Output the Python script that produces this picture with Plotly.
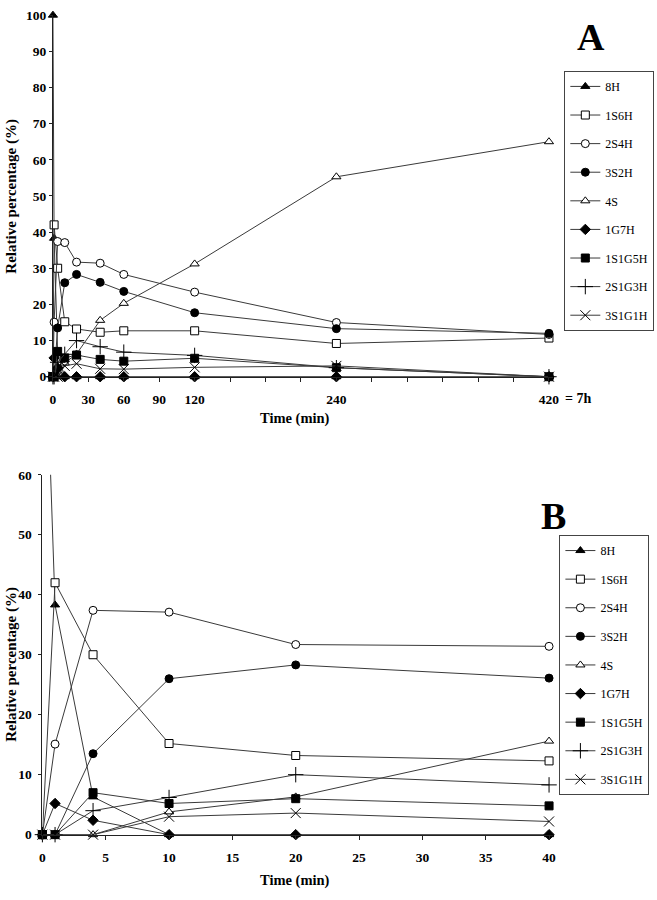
import plotly.graph_objects as go

time_min = [0, 1, 4, 10, 20, 40, 60, 120, 240, 420]
n_b = 6  # panel B shows the first 6 time points (0-40 min)

series_names = ["8H", "1S6H", "2S4H", "3S2H", "4S", "1G7H", "1S1G5H", "2S1G3H", "3S1G1H"]
v_8H     = [100, 38.3, 6.3, 0, 0, 0, 0, 0, 0, 0]
v_1S6H   = [0, 42.0, 30.0, 15.2, 13.2, 12.3, 12.7, 12.7, 9.2, 10.7]
v_2S4H   = [0, 15.1, 37.4, 37.1, 31.7, 31.4, 28.3, 23.4, 15.0, 11.7]
v_3S2H   = [0, 0, 13.5, 26.0, 28.3, 26.1, 23.6, 17.7, 13.3, 12.0]
v_4S     = [0, 0, 0, 3.8, 6.3, 15.6, 20.3, 31.2, 55.3, 65.0]
v_1G7H   = [0, 5.2, 2.4, 0, 0, 0, 0, 0, 0, 0]
v_1S1G5H = [0, 0, 7.0, 5.2, 6.0, 4.8, 4.3, 5.1, 2.5, 0]
v_2S1G3H = [0, 0, 4.0, 6.2, 10.0, 8.3, 6.8, 5.9, 2.5, 0]
v_3S1G1H = [0, 0, 0, 3.0, 3.6, 2.2, 2.1, 2.6, 3.0, 0]
values = [v_8H, v_1S6H, v_2S4H, v_3S2H, v_4S, v_1G7H, v_1S1G5H, v_2S1G3H, v_3S1G1H]

# symbol, fill colour, size
styles = [
    ("triangle-up", "black", 8),
    ("square", "white", 8),
    ("circle", "white", 8),
    ("circle", "black", 8),
    ("triangle-up", "white", 8),
    ("diamond", "black", 8),
    ("square", "black", 8),
    ("cross-thin-open", "black", 11),
    ("x-thin-open", "black", 10),
]

xticks_a = [0, 30, 60, 90, 120, 150, 180, 210, 240, 270, 300, 330, 360, 390, 420]
xtick_text_a = ["0", "30", "60", "90", "120", "", "", "", "240", "", "", "", "", "", "420"]
yticks_a = [0, 10, 20, 30, 40, 50, 60, 70, 80, 90, 100]
xticks_b = [0, 5, 10, 15, 20, 25, 30, 35, 40]
yticks_b = [0, 10, 20, 30, 40, 50, 60]

LINE = "#3a3a3a"
SERIF = "Liberation Serif"

fig = go.Figure()
for panel, (xa, ya, leg, npts) in enumerate([("x", "y", "legend", len(time_min)),
                                             ("x2", "y2", "legend2", n_b)]):
    for name, vals, (sym, fill, sz) in zip(series_names, values, styles):
        fig.add_trace(go.Scatter(
            x=time_min[:npts], y=vals[:npts], name=name,
            mode="lines+markers", xaxis=xa, yaxis=ya, legend=leg,
            legendgroup=f"{leg}_{name}",
            line=dict(color=LINE, width=1),
            marker=dict(symbol=sym, color=fill, size=sz,
                        line=dict(color="black", width=1)),
            cliponaxis=False,
        ))

W, H = 657, 900
def px(x):
    return x / W
def py(y):
    return 1 - y / H

tickfont = dict(family=SERIF, size=13.5, color="black", weight="bold")
axis_common = dict(showgrid=False, zeroline=False, showline=True, linecolor="#222",
                   linewidth=1, ticks="outside", tickcolor="#222", tickfont=tickfont)

fig.update_layout(
    width=W, height=H, margin=dict(l=0, r=0, t=0, b=0),
    paper_bgcolor="white", plot_bgcolor="white",
    xaxis=dict(domain=[px(50.7), px(558)], range=[0, 423], anchor="y",
               tickmode="array", tickvals=xticks_a, ticktext=xtick_text_a,
               ticklen=4, ticklabelstandoff=6, **axis_common),
    yaxis=dict(domain=[py(376), py(8.3)], range=[0, 100], anchor="x",
               tickmode="array", tickvals=yticks_a, ticklen=3, **axis_common),
    xaxis2=dict(domain=[px(40), px(559)], range=[0, 40.35], anchor="y2",
                tickmode="array", tickvals=xticks_b, ticklen=4, ticklabelstandoff=6,
                **axis_common),
    yaxis2=dict(domain=[py(841.7), py(475.7)], range=[0, 60], anchor="x2",
                tickmode="array", tickvals=yticks_b, ticklen=3, ticklabelstandoff=4,
                **axis_common),
    legend=dict(x=px(570), y=py(65), xanchor="left", yanchor="top",
                bordercolor="#444", borderwidth=1, bgcolor="white",
                font=dict(family=SERIF, size=12, color="black"),
                tracegroupgap=9.6),
    legend2=dict(x=px(565), y=py(537), xanchor="left", yanchor="top",
                 bordercolor="#444", borderwidth=1, bgcolor="white",
                 font=dict(family=SERIF, size=12, color="black"),
                 tracegroupgap=9.6),
    showlegend=True,
)

bold = lambda s: dict(family=SERIF, size=s, color="black", weight="bold")
ann = [
    dict(text="A", x=px(597), y=py(31), font=bold(38)),
    dict(text="B", x=px(559), y=py(518), font=bold(38)),
    dict(text="= 7h", x=px(584), y=py(398), font=bold(14)),
    dict(text="Time (min)", x=px(297), y=py(418), font=bold(14.5)),
    dict(text="Time (min)", x=px(297), y=py(888), font=bold(14.5)),
    dict(text="Relative percentage (%)", x=px(9), y=py(192), font=bold(15), textangle=-90),
    dict(text="Relative percentage (%)", x=px(9), y=py(668), font=bold(15), textangle=-90),
]
for a in ann:
    fig.add_annotation(xref="paper", yref="paper", showarrow=False,
                       xanchor="center", yanchor="middle", **a)

fig.write_html("out.html", config={"displayModeBar": False},
               post_script="document.body.style.margin='0';document.body.style.padding='0';")
